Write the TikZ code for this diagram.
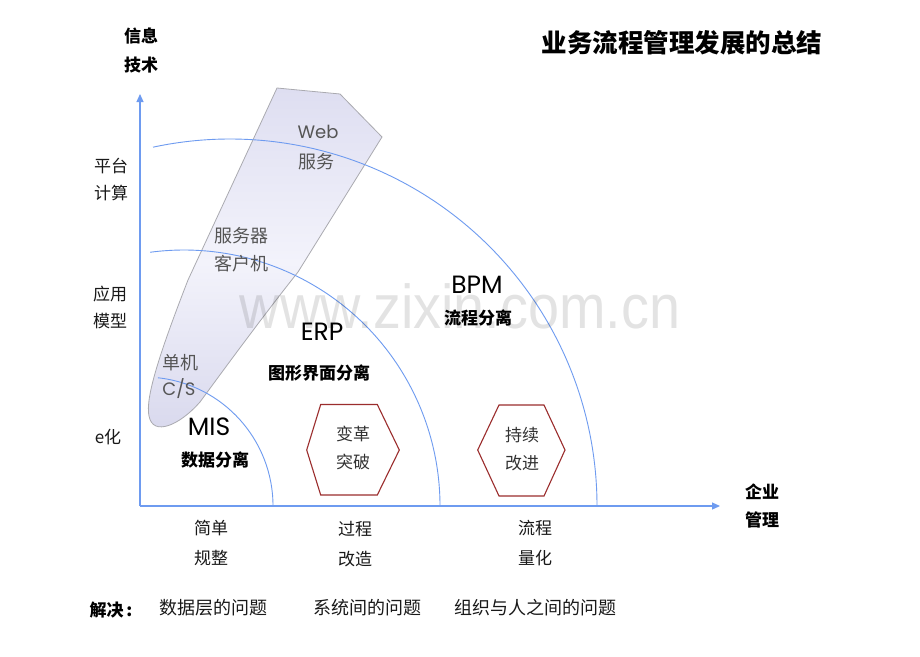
\documentclass[tikz,border=0pt]{standalone}
\usepackage{fontspec}
\setmainfont{Noto Sans CJK SC}
\newfontfamily\latfont{Poppins}
\newfontfamily\wmfont{Liberation Sans}
\usetikzlibrary{arrows.meta}
\definecolor{axisblue}{RGB}{110,155,240}
\definecolor{hexred}{RGB}{155,45,45}
\definecolor{bladeedge}{RGB}{170,170,176}
\definecolor{bladetop}{RGB}{222,222,241}
\definecolor{blademid}{RGB}{243,243,251}
\definecolor{bladebot}{RGB}{216,216,237}
\definecolor{txt}{RGB}{25,25,25}
\definecolor{graytxt}{RGB}{85,85,85}
\tikzset{
  lbl/.style={inner sep=0pt, text=txt, font=\fontsize{17}{17}\selectfont},
  blbl/.style={inner sep=0pt, text=black, font=\fontsize{17}{17}\selectfont\bfseries},
  glbl/.style={inner sep=0pt, text=graytxt, font=\fontsize{18}{18}\selectfont},
  glat/.style={inner sep=0pt, text=graytxt, font=\latfont\fontsize{18}{18}\selectfont},
  biglat/.style={inner sep=0pt, text=black, font=\latfont\fontsize{25}{25}\selectfont},
  hexlbl/.style={inner sep=0pt, text=black!80, font=\fontsize{17}{17}\selectfont},
  axisline/.style={draw=axisblue, line width=1.2pt, -{Triangle[length=8pt,width=7pt]}},
  arcline/.style={draw=axisblue, line width=0.9pt},
  hexa/.style={draw=hexred, line width=1.1pt},
}
\begin{document}
\begin{tikzpicture}[x=1pt,y=-1pt]
\useasboundingbox[fill=white] (0,0) rectangle (920,656);

% blade (technology evolution)
\shade[top color=bladetop, bottom color=bladebot, middle color=blademid, draw=bladeedge, line width=0.8pt]
  (277,88) -- (340,94) -- (382,137) -- (298,272)
  .. controls (260,320) and (225,368) .. (200,402)
  .. controls (180,425) and (153,437) .. (149,416)
  .. controls (145,398) and (160,352) .. (188,280) -- cycle;

% arcs
\coordinate (c1) at (144,506);
\coordinate (c2) at (184,506);
\coordinate (c3) at (230,506);
\draw[arcline] ([shift={(83.8:129pt)}]c1) arc[start angle=83.8, end angle=0, radius=129pt];
\draw[arcline] ([shift={(97.6:256pt)}]c2) arc[start angle=97.6, end angle=0, radius=256pt];
\draw[arcline] ([shift={(102.1:367pt)}]c3) arc[start angle=102.1, end angle=0, radius=367pt];

% axes
\coordinate (O) at (140,506);
\coordinate (ytip) at (140,94);
\coordinate (xtip) at (720,506);
\draw[axisline] (O) -- (ytip);
\draw[axisline] (O) -- (xtip);

% title
\node[inner sep=0pt, font=\fontsize{25.5}{25.5}\selectfont\bfseries] (title) at (682,43) {业务流程管理发展的总结};

% axis titles
\node[blbl] (yt1) at (141,36) {信息};
\node[blbl] (yt2) at (141,65) {技术};
\node[blbl] (xt1) at (762,492) {企业};
\node[blbl] (xt2) at (762,520) {管理};

% y labels
\node[lbl] (y1a) at (111,166) {平台};
\node[lbl] (y1b) at (111,193) {计算};
\node[lbl] (y2a) at (110,294) {应用};
\node[lbl] (y2b) at (110,321) {模型};
\node[lbl] (y3) at (108,437) {e化};

% x labels
\node[lbl] (x1a) at (211,528) {简单};
\node[lbl] (x1b) at (211,558) {规整};
\node[lbl] (x2a) at (355,529) {过程};
\node[lbl] (x2b) at (355,559) {改造};
\node[lbl] (x3a) at (535,528) {流程};
\node[lbl] (x3b) at (535,558) {量化};

% bottom line
\node[blbl] (solve) at (111,610) {解决\,:};
\node[inner sep=0pt, text=txt, font=\fontsize{18}{18}\selectfont] (s1) at (213,608) {数据层的问题};
\node[inner sep=0pt, text=txt, font=\fontsize{18}{18}\selectfont] (s2) at (367,608) {系统间的问题};
\node[inner sep=0pt, text=txt, font=\fontsize{18}{18}\selectfont] (s3) at (535,608) {组织与人之间的问题};

% blade labels
\node[glat] (web) at (318,132) {Web};
\node[glbl] (webs) at (316,162) {服务};
\node[glbl] (srv) at (241,236) {服务器};
\node[glbl] (cli) at (241,264) {客户机};
\node[glbl] (single) at (180,363) {单机};
\node[glat] (cs) at (179,389) {C/S};

% stage labels
\node[biglat] (mis) at (209,427) {MIS};
\node[blbl] (misd) at (215,460) {数据分离};
\node[biglat] (erp) at (322,332) {ERP};
\node[blbl] (erpd) at (319,373) {图形界面分离};
\node[biglat] (bpm) at (477,285) {BPM};
\node[blbl] (bpmd) at (478,318) {流程分离};

% hexagons
\draw[hexa] (306.7,450) -- (320.7,404.5) -- (377.3,404.5) -- (399.3,450) -- (377.3,495) -- (320.7,495) -- cycle;
\draw[hexa] (477.7,450) -- (499,405) -- (544,405) -- (565,450) -- (544,496) -- (499,496) -- cycle;
\node[hexlbl] (h1a) at (353,434) {变革};
\node[hexlbl] (h1b) at (353,462) {突破};
\node[hexlbl] (h2a) at (522,435) {持续};
\node[hexlbl] (h2b) at (522,463) {改进};

% watermark
\node[inner sep=0pt, anchor=base, text=black, opacity=0.11, font=\wmfont\fontsize{62}{62}\selectfont] (wm) at (460,328) {\scalebox{0.9}[1]{www.zixin.com.cn}};
\end{tikzpicture}
\end{document}
